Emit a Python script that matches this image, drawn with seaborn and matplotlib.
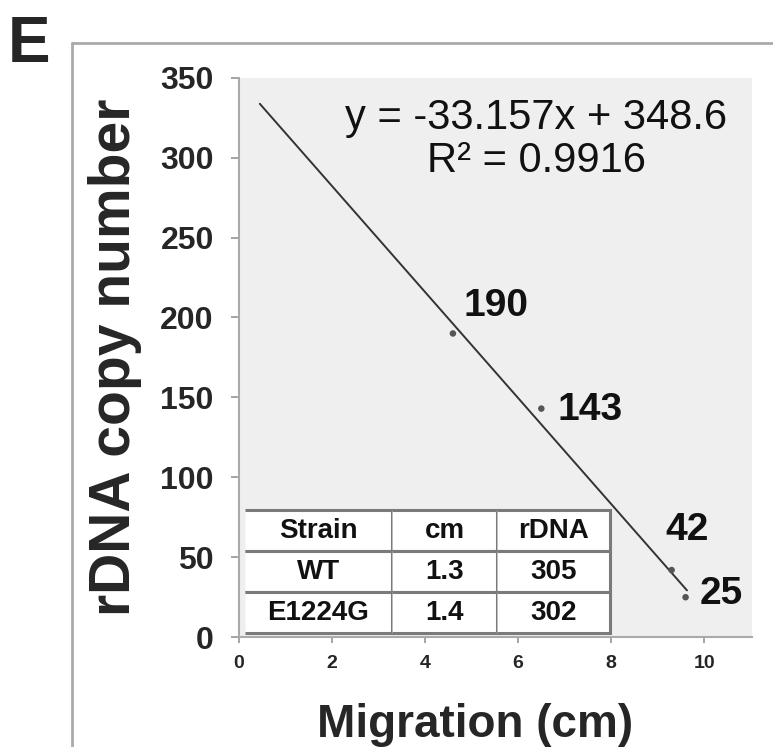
import numpy as np
import pandas as pd
import seaborn as sns
import matplotlib.pyplot as plt
from matplotlib.lines import Line2D

migration = [4.6, 6.5, 9.3, 9.6]
copies = [190, 143, 42, 25]
point_labels = ['190', '143', '42', '25']
label_x = [4.82, 6.84, 9.16, 9.91]
label_y = [207, 142, 67, 27]

slope = -33.157
intercept = 348.6
fit_x = [0.45, 9.63]

table_cols = ['Strain', 'cm', 'rDNA']
table_rows = [['WT', '1.3', '305'], ['E1224G', '1.4', '302']]

sns.set_theme(style='white')
plt.rcParams['font.family'] = ['Liberation Sans', 'DejaVu Sans']

fig = plt.figure(figsize=(7.73, 7.47), dpi=100)
ax = fig.add_axes([0.309, 0.147, 0.664, 0.749])
ax.set_facecolor('#efefef')

df = pd.DataFrame({'x': migration, 'y': copies})
fit = pd.DataFrame({'x': fit_x, 'y': [slope * v + intercept for v in fit_x]})
sns.lineplot(data=fit, x='x', y='y', ax=ax, color='#333333', lw=1.4)
sns.scatterplot(data=df, x='x', y='y', ax=ax, color='#555555', s=22,
                edgecolor='none', zorder=3)

for t, lx, ly in zip(point_labels, label_x, label_y):
    ax.text(lx, ly, t, fontsize=28, fontweight='bold', color='#111111',
            ha='left', va='center')

ax.text(0.579, 0.889, 'y = -33.157x + 348.6\nR² = 0.9916', transform=ax.transAxes,
        fontsize=30, color='#111111', ha='center', va='center', linespacing=1.1)

ax.set_xlim(0, 11.03)
ax.set_ylim(0, 350)
ax.set_xticks([0, 2, 4, 6, 8, 10])
ax.set_yticks(range(0, 351, 50))
ax.tick_params(axis='y', labelsize=23, length=6, color='#999999', pad=12)
ax.tick_params(axis='x', labelsize=14, length=4, color='#999999', pad=9)
for lab in ax.get_xticklabels() + ax.get_yticklabels():
    lab.set_fontweight('bold')
ax.tick_params(left=True, bottom=True)
for s in ['top', 'right']:
    ax.spines[s].set_visible(False)
for s in ['left', 'bottom']:
    ax.spines[s].set_color('#aaaaaa')
    ax.spines[s].set_linewidth(1.5)

ax.set_xlabel('Migration (cm)', fontsize=33, fontweight='bold')
ax.set_ylabel('rDNA copy number', fontsize=41, fontweight='bold')
ax.xaxis.set_label_coords(0.46, -0.118)
ax.yaxis.set_label_coords(-0.188, 0.5)

tb = ax.table(cellText=table_rows, colLabels=table_cols, cellLoc='center',
              bbox=[0.012, 0.007, 0.711, 0.22], colWidths=[147, 105, 113])
tb.auto_set_font_size(False)
for (r, c), cell in tb.get_celld().items():
    cell.set_facecolor('white')
    cell.set_edgecolor('#7a7a7a')
    cell.set_linewidth(2.2)
    cell.visible_edges = 'BTR'
    cell.get_text().set_fontsize(20)
    cell.get_text().set_fontweight('bold')
    cell.get_text().set_color('#111111')

fig.add_artist(Line2D([0.093, 1.0], [0.942, 0.942], transform=fig.transFigure,
                      color='#aaaaaa', lw=2))
fig.add_artist(Line2D([0.093, 0.093], [0.0, 0.942], transform=fig.transFigure,
                      color='#aaaaaa', lw=2))
fig.text(0.038, 0.94, 'E', fontsize=46, fontweight='bold', ha='center', va='center')

fig.savefig('out.png', dpi=100)
